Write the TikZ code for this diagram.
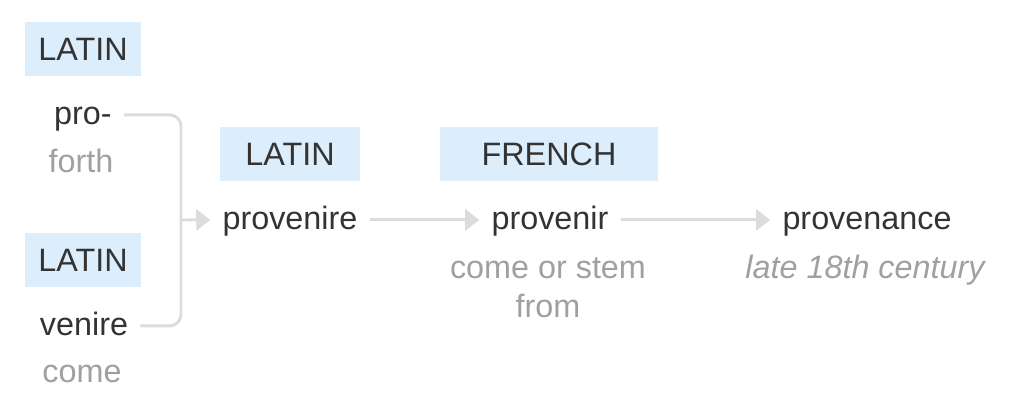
\documentclass[tikz,border=0pt]{standalone}
\usepackage{fontspec}
\setmainfont{Liberation Sans}
\usetikzlibrary{arrows.meta}
\definecolor{tagblue}{HTML}{DCEDFB}
\definecolor{wordgray}{HTML}{333333}
\definecolor{glossgray}{HTML}{A0A0A0}
\definecolor{linkgray}{HTML}{DCDCDC}
\tikzset{
  tag/.style={fill=tagblue, text=wordgray, minimum height=1.35cm, inner sep=0pt,
    font=\fontsize{23}{28}\selectfont},
  word/.style={text=wordgray, anchor=base, inner xsep=0.3cm, inner ysep=0pt,
    font=\fontsize{23}{28}\selectfont},
  gloss/.style={text=glossgray, anchor=base, inner sep=0pt, align=center,
    font=\fontsize{23}{27.6}\selectfont},
  link/.style={draw=linkgray, line width=2.1pt},
  arr/.style={link, -{Triangle[length=10pt,width=15pt]}}
}
\begin{document}
\begin{tikzpicture}[x=0.025cm, y=-0.025cm]
  \useasboundingbox (0,0) rectangle (1024,410);
  % left column
  \node[tag, minimum width=2.9cm] (lat1) at (83,49) {LATIN};
  \node[word] (pro) at (83,124) {pro-};
  \node[gloss] (forth) at (81,172) {forth};
  \node[tag, minimum width=2.9cm] (lat2) at (83,260) {LATIN};
  \node[word] (venire) at (84,335) {venire};
  \node[gloss] (come) at (82,382) {come};

  % middle
  \node[tag, minimum width=3.5cm] (lat3) at (290,154) {LATIN};
  \node[word] (provenire) at (290,229) {provenire};
  \node[tag, minimum width=5.45cm] (french) at (549,154) {FRENCH};
  \node[word] (provenir) at (550,229) {provenir};
  \node[gloss] (stem) at (548,317) {come or stem\\from};

  % right
  \node[word] (provenance) at (867,229) {provenance};
  \node[gloss, font=\fontsize{23}{27.6}\selectfont\itshape] (date) at (865,278) {late 18th century};

  \coordinate (join) at (181,220);
  \draw[link, rounded corners=8pt] ([yshift=6.5pt]pro.base east) -| (join);
  \draw[link, rounded corners=8pt] ([yshift=6.5pt]venire.base east) -| (join);
  \draw[arr] (join) -- ([yshift=6.5pt]provenire.base west);
  \draw[arr] ([yshift=6.5pt]provenire.base east) -- ([yshift=6.5pt]provenir.base west);
  \draw[arr] ([yshift=6.5pt]provenir.base east) -- ([yshift=6.5pt]provenance.base west);
\end{tikzpicture}
\end{document}
